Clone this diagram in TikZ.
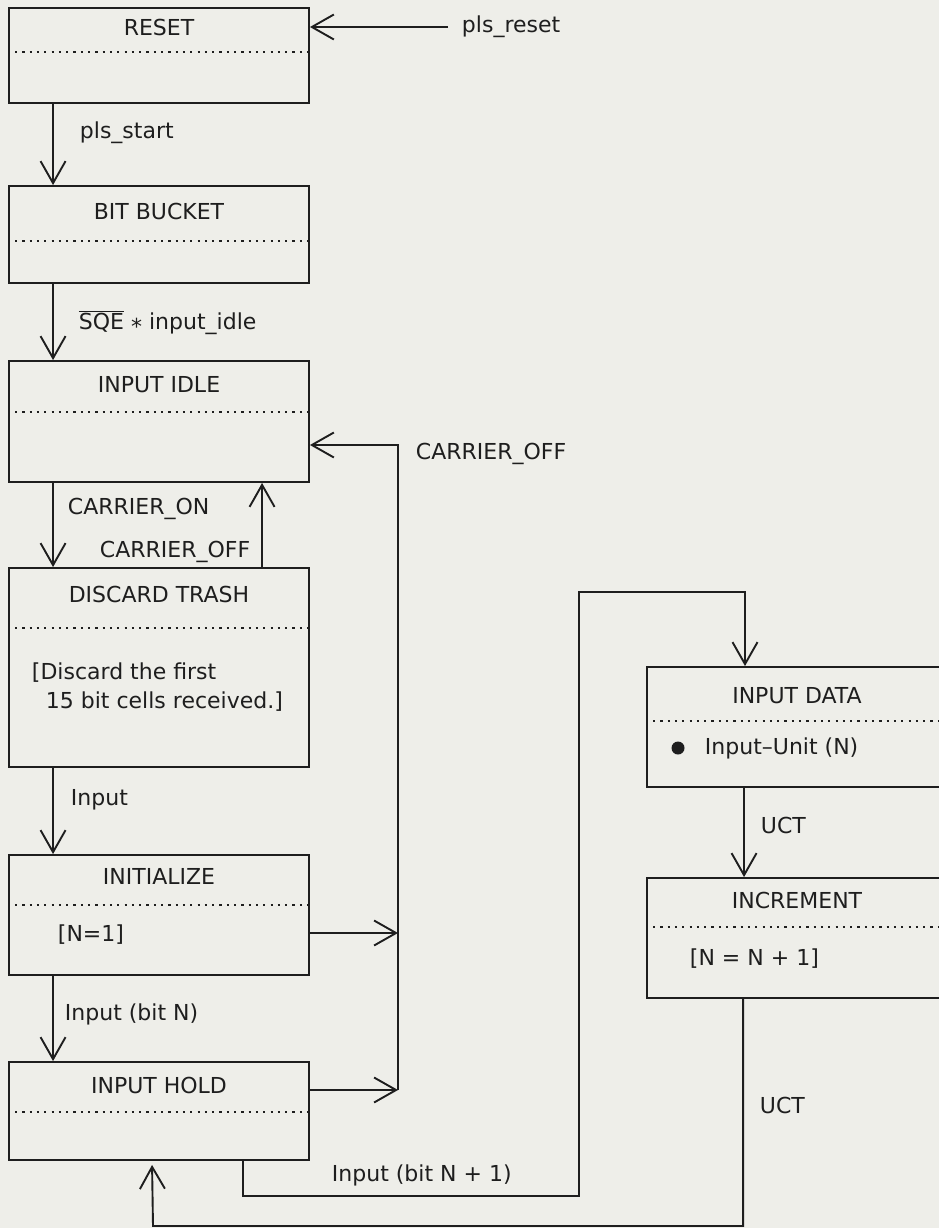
\documentclass[tikz,border=0pt]{standalone}
\usepackage{fontspec}
\setmainfont{DejaVu Sans}
\usetikzlibrary{arrows.meta,calc,positioning}
\definecolor{paper}{HTML}{EEEEE9}
\definecolor{ink}{HTML}{1E1E1E}

\begin{document}
\begin{tikzpicture}[x=1pt,y=-1pt,line width=1.9pt,color=ink,
  >={Straight Barb[length=22pt,width=25pt]},
  state/.style={draw,minimum width=300pt,inner sep=0pt},
  txt/.style={font=\fontsize{22}{29}\selectfont,inner sep=0pt,text height=16pt,text depth=4pt},
  lbl/.style={txt,anchor=west},
  sep/.style={line width=2.2pt,dash pattern=on 2.2pt off 5.1pt}]
  \fill[paper] (0,0) rectangle (939,1228);
  \clip (0,0) rectangle (939,1228);
  % states
  \node[state,minimum height=95pt]  (reset)  at (159,55.5)  {};
  \node[state,minimum height=97pt]  (bucket) at (159,234.5) {};
  \node[state,minimum height=121pt] (idle)   at (159,421.5) {};
  \node[state,minimum height=199pt] (trash)  at (159,667.5) {};
  \node[state,minimum height=120pt] (init)   at (159,915)   {};
  \node[state,minimum height=98pt]  (hold)   at (159,1111)  {};
  \node[state,minimum height=120pt] (data)   at (797,727)   {};
  \node[state,minimum height=120pt] (incr)   at (797,938)   {};
  \foreach \n/\t/\s/\name in {reset/22/45/RESET, bucket/28/56/BIT BUCKET, idle/26/52/INPUT IDLE,
      trash/29/61/DISCARD TRASH, init/24/51/INITIALIZE, hold/26/51/INPUT HOLD,
      data/31/55/INPUT DATA, incr/25/50/INCREMENT}{
    \node[txt] (\n-t) at ($(\n.north)+(0,\t)$) {\name};
    \draw[sep] ($(\n.north west)+(7,\s)$) -- ($(\n.north east)+(-2,\s)$);
  }
  % actions
  \node[lbl] (trash-b1) at (31,673) {[Discard the first};
  \node[lbl] (trash-b2) at (45,702) {15 bit cells received.]};
  \node[lbl] (init-b) at (57,935) {[N=1]};
  \node[circle,fill,inner sep=0pt,minimum size=13pt] (data-dot) at (678,748) {};
  \node[lbl] (data-b) at (704,748) {Input–Unit (N)};
  \node[lbl] (incr-b) at (689,959) {[N = N + 1]};
  % transitions
  \node[lbl] (l-reset) at (461,27) {pls\_reset};
  \draw[->] ([xshift=-13pt]l-reset.west) -- (reset.east |- l-reset.west);
  \draw[->] ($(reset.south west)+(45,0)$) -- ($(bucket.north west)+(45,0)$);
  \node[lbl] (l-start) at (79,133) {pls\_start};
  \draw[->] ($(bucket.south west)+(45,0)$) -- ($(idle.north west)+(45,0)$);
  \node[lbl] (l-sqe) at (78,323) {$\overline{\mbox{SQE}}$ \raisebox{-5pt}{*} input\_idle};
  \draw[->] ($(idle.south west)+(45,0)$) -- ($(trash.north west)+(45,0)$);
  \node[lbl] (l-on) at (67,508) {CARRIER\_ON};
  \draw[->] ($(trash.north west)+(254,0)$) -- ($(idle.south west)+(254,0)$);
  \node[lbl] (l-off) at (99,551) {CARRIER\_OFF};
  \draw[->] ($(trash.south west)+(45,0)$) -- ($(init.north west)+(45,0)$);
  \node[lbl] (l-input) at (70,799) {Input};
  \draw[->] ($(init.south west)+(45,0)$) -- ($(hold.north west)+(45,0)$);
  \node[lbl] (l-bitn) at (64,1014) {Input (bit N)};
  % carrier off loop
  \coordinate (loopT) at (398,445);
  \coordinate (loopB) at (398,1090);
  \draw[->] (loopB) -- (loopT) -- (idle.east |- loopT);
  \node[lbl] (l-off2) at (415,453) {CARRIER\_OFF};
  \draw[->] ([yshift=-18pt]init.east) -- ([yshift=-18pt]init.east -| loopB);
  \draw[->] ([yshift=21pt]hold.east) -- (loopB);
  % data loop
  \coordinate (b1) at (579,1196);
  \coordinate (b2) at (745,592);
  \draw[->] ($(hold.south west)+(235,0)$) |- (b1) |- (b2) -- (b2 |- data.north);
  \node[lbl] (l-bitn1) at (331,1175) {Input (bit N + 1)};
  \draw[->] ($(data.south west)+(98,0)$) -- ($(incr.north west)+(98,0)$);
  \node[lbl] (l-uct) at (760,827) {UCT};
  \coordinate (b3) at (153,1226);
  \draw[->] ($(incr.south west)+(97,0)$) |- (b3) -- ($(hold.south west)+(144,4)$);
  \node[lbl] (l-uct2) at (759,1107) {UCT};
\end{tikzpicture}
\end{document}
